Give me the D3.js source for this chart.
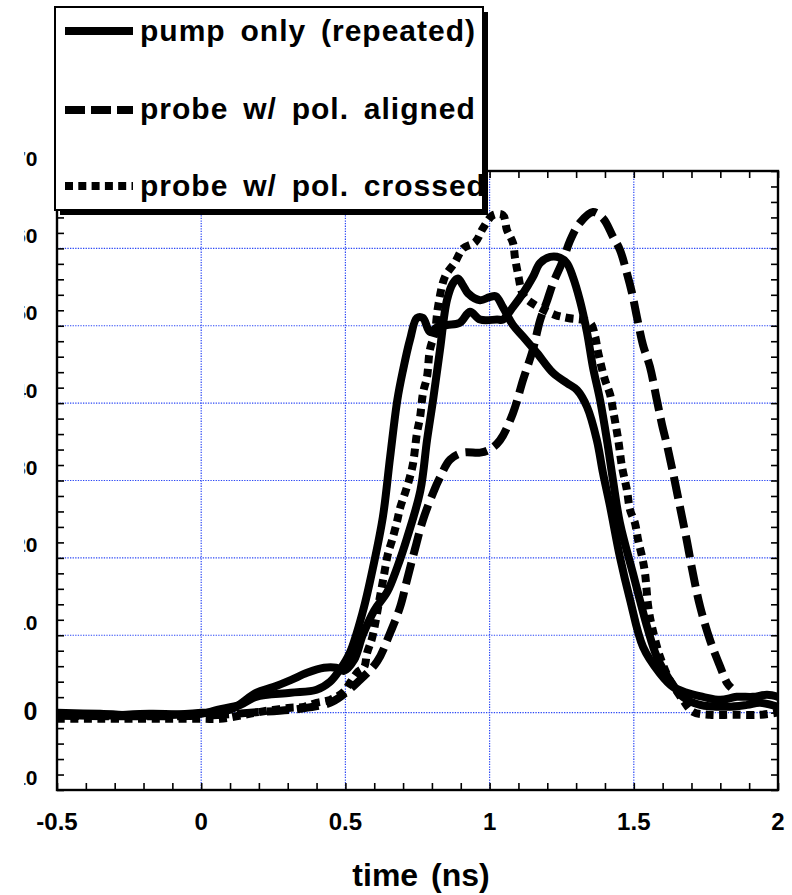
<!DOCTYPE html>
<html>
<head>
<meta charset="utf-8">
<script src="https://cdn.jsdelivr.net/npm/d3@7"></script>
<style>
  html, body { margin: 0; padding: 0; background: #fff; }
  svg { display: block; }
  text { font-family: "Liberation Sans", Arial, Helvetica, sans-serif; font-weight: bold; fill: #000; }
</style>
</head>
<body>
<svg id="chart" width="792" height="895"></svg>
<script>
// Pulse shapes: time (ns) vs signal, for two repeated pump-only runs and the probe
const pumpRunA = [
  [-0.5, -0.28], [-0.35, -0.41], [-0.18, -0.16], [0.0, -0.16], [0.055, 0.36], [0.135, 1.0],
  [0.19, 2.04], [0.31, 2.56], [0.40, 2.95], [0.447, 3.98], [0.48, 5.5], [0.516, 7.8],
  [0.56, 13.0], [0.596, 18.8], [0.63, 25.3], [0.655, 33.0], [0.68, 40.4], [0.70, 44.3],
  [0.724, 48.2], [0.748, 51.0], [0.769, 51.0], [0.793, 49.2], [0.818, 49.8], [0.852, 50.1],
  [0.897, 50.4], [0.932, 51.8], [0.967, 50.8], [1.026, 50.8], [1.046, 50.8], [1.081, 52.4],
  [1.116, 54.2], [1.15, 56.3], [1.175, 58.1], [1.21, 58.9], [1.244, 58.8], [1.268, 58.1],
  [1.289, 56.3], [1.313, 53.3], [1.338, 49.1], [1.358, 44.7], [1.383, 40.4], [1.407, 35.2],
  [1.428, 30.0], [1.452, 24.5], [1.497, 18.0], [1.546, 11.1], [1.58, 7.2], [1.625, 4.2],
  [1.67, 2.04], [1.73, 1.0], [1.823, 0.75], [1.893, 1.0], [1.938, 1.27], [2.0, 0.75]
];

const pumpRunB = [
  [-0.5, -0.03], [-0.35, -0.16], [-0.18, -0.41], [0.0, -0.03], [0.1, 0.36], [0.19, 2.56],
  [0.25, 3.3], [0.31, 4.2], [0.367, 5.15], [0.426, 5.8], [0.468, 5.8], [0.495, 5.4],
  [0.53, 6.8], [0.56, 10.0], [0.60, 13.2], [0.645, 15.6], [0.68, 18.8], [0.714, 22.6],
  [0.76, 28.7], [0.783, 35.2], [0.804, 40.4], [0.828, 46.9], [0.852, 53.3], [0.873, 55.5],
  [0.89, 56.1], [0.908, 55.2], [0.925, 54.2], [0.967, 53.3], [1.0, 53.7], [1.022, 53.8],
  [1.046, 52.4], [1.081, 50.1], [1.116, 48.6], [1.164, 46.5], [1.22, 43.9], [1.268, 42.6],
  [1.303, 41.7], [1.338, 39.5], [1.372, 35.2], [1.393, 31.0], [1.418, 26.6], [1.452, 20.1],
  [1.487, 14.6], [1.532, 8.5], [1.59, 5.1], [1.636, 3.33], [1.684, 2.56], [1.74, 2.04],
  [1.8, 1.65], [1.857, 2.04], [1.913, 2.04], [1.962, 2.3], [2.0, 2.04]
];

const probeAligned = [
  [-0.5, -0.41], [0.0, -0.41], [0.17, 0.0], [0.343, 0.5], [0.447, 1.27], [0.492, 2.3],
  [0.54, 3.85], [0.61, 6.6], [0.655, 10.3], [0.69, 13.7], [0.714, 17.2], [0.741, 21.1],
  [0.769, 24.9], [0.804, 28.4], [0.828, 30.4], [0.863, 32.7], [0.908, 33.6], [0.967, 33.6],
  [1.0, 34.0], [1.036, 35.2], [1.081, 38.7], [1.116, 43.0], [1.15, 46.9], [1.175, 50.7],
  [1.2, 53.3], [1.22, 55.5], [1.254, 58.4], [1.279, 61.0], [1.313, 63.3], [1.358, 64.7],
  [1.393, 63.9], [1.428, 61.5], [1.452, 59.8], [1.476, 56.8], [1.494, 54.2], [1.511, 51.1],
  [1.532, 47.5], [1.556, 44.7], [1.58, 40.4], [1.598, 37.2], [1.615, 34.6], [1.636, 31.0],
  [1.66, 26.6], [1.684, 22.2], [1.705, 18.0], [1.73, 13.7], [1.764, 9.4], [1.8, 5.9],
  [1.823, 3.85], [1.838, 3.2]
];

const probeCrossed = [
  [-0.5, -0.8], [0.0, -0.8], [0.065, -0.8], [0.148, -0.28], [0.19, 0.0], [0.25, 0.36],
  [0.31, 0.62], [0.357, 0.75], [0.40, 1.27], [0.447, 1.65], [0.495, 2.7], [0.516, 3.85],
  [0.544, 5.3], [0.565, 5.9], [0.575, 7.7], [0.593, 9.7], [0.62, 15.0], [0.631, 17.2],
  [0.648, 20.6], [0.662, 22.3], [0.679, 24.7], [0.69, 26.5], [0.707, 28.4], [0.724, 30.5],
  [0.735, 32.3], [0.748, 36.1], [0.759, 38.2], [0.769, 41.3], [0.783, 43.4], [0.793, 46.9],
  [0.81, 49.1], [0.821, 52.4], [0.845, 56.3], [0.88, 58.2], [0.908, 60.0], [0.95, 60.8],
  [0.977, 62.6], [1.012, 64.3], [1.046, 64.3], [1.06, 62.4], [1.081, 60.7], [1.088, 58.8],
  [1.098, 56.8], [1.116, 54.0], [1.14, 53.1], [1.227, 51.4], [1.272, 51.0], [1.348, 50.4],
  [1.366, 48.6], [1.376, 46.6], [1.4, 43.0], [1.418, 41.1], [1.428, 39.1], [1.445, 35.5],
  [1.459, 31.8], [1.476, 28.8], [1.487, 26.2], [1.504, 24.5], [1.515, 22.3], [1.529, 20.1],
  [1.539, 18.0], [1.55, 13.7], [1.563, 11.1], [1.591, 7.2], [1.625, 4.2], [1.67, 1.65],
  [1.705, 0.1], [1.764, -0.28], [1.844, -0.28], [1.938, -0.28], [2.0, 0.0]
];

const xTickLabels = [-0.5, 0, 0.5, 1, 1.5, 2];
const yTickLabels = [-10, 0, 10, 20, 30, 40, 50, 60, 70];
const xGridValues = [0, 0.5, 1, 1.5];
const yGridValues = [0, 10, 20, 30, 40, 50, 60];
const legendLabels = ["pump only (repeated)", "probe w/ pol. aligned", "probe w/ pol. crossed"];
const xTitle = "time (ns)";

const svg = d3.select("#chart");
const plot = { left: 57, right: 778, top: 171, bottom: 790 };

const x = d3.scaleLinear().domain([-0.5, 2]).range([plot.left, plot.right]);
const y = d3.scaleLinear().domain([-10, 70]).range([plot.bottom, plot.top]);

const styles = {
  solid:  { dash: null },
  dashed: { dash: "22,8" },
  dotted: { dash: "8,5.5" }
};

// Blue dotted grid
const grid = svg.append("g").attr("stroke", "#2b47f5").attr("stroke-width", 1.2)
  .attr("stroke-dasharray", "1.3,1.3");
grid.selectAll("line.v").data(xGridValues).join("line").attr("class", "v")
  .attr("x1", d => x(d)).attr("x2", d => x(d)).attr("y1", plot.top).attr("y2", plot.bottom);
grid.selectAll("line.h").data(yGridValues).join("line").attr("class", "h")
  .attr("x1", plot.left).attr("x2", plot.right).attr("y1", d => y(d)).attr("y2", d => y(d));

// Curves
const line = d3.line().x(d => x(d[0])).y(d => y(d[1])).curve(d3.curveCatmullRom.alpha(0.5));
const series = [
  { data: pumpRunA, style: "solid" },
  { data: pumpRunB, style: "solid" },
  { data: probeAligned, style: "dashed" },
  { data: probeCrossed, style: "dotted" }
];
svg.append("g").selectAll("path").data(series).join("path")
  .attr("d", d => line(d.data))
  .attr("fill", "none").attr("stroke", "#000").attr("stroke-width", 8)
  .attr("stroke-linejoin", "round")
  .attr("stroke-dasharray", d => styles[d.style].dash);

// Frame with inward ticks on all four sides
const minorX = d3.range(-5, 21).map(i => i / 10);
const minorY = d3.range(-10, 71, 2);
const axes = svg.append("g");
function styleAxis(g) {
  g.select(".domain").remove();
  g.selectAll(".tick line").attr("stroke", "#000").attr("stroke-width", 1.6);
}
axes.append("g").attr("transform", `translate(0,${plot.bottom})`)
  .call(d3.axisBottom(x).tickValues(minorX).tickSize(-7).tickFormat("")).call(styleAxis);
axes.append("g").attr("transform", `translate(0,${plot.top})`)
  .call(d3.axisTop(x).tickValues(minorX).tickSize(-7).tickFormat("")).call(styleAxis);
axes.append("g").attr("transform", `translate(${plot.left},0)`)
  .call(d3.axisLeft(y).tickValues(minorY).tickSize(-7).tickFormat("")).call(styleAxis);
axes.append("g").attr("transform", `translate(${plot.right},0)`)
  .call(d3.axisRight(y).tickValues(minorY).tickSize(-7).tickFormat("")).call(styleAxis);
axes.append("rect")
  .attr("x", plot.left).attr("y", plot.top)
  .attr("width", plot.right - plot.left).attr("height", plot.bottom - plot.top)
  .attr("fill", "none").attr("stroke", "#000").attr("stroke-width", 2.4);

// X tick labels and title
svg.append("g").selectAll("text").data(xTickLabels).join("text")
  .attr("x", d => x(d)).attr("y", 830)
  .attr("text-anchor", "middle").attr("font-size", 24)
  .text(d => String(d));
svg.append("text").attr("x", 421).attr("y", 886)
  .attr("text-anchor", "middle").attr("font-size", 32).attr("word-spacing", 4)
  .text(xTitle);

// Y tick labels (left margin is narrow, so only their ends show)
svg.append("defs").append("clipPath").attr("id", "ylabClip")
  .append("rect").attr("x", 24.3).attr("y", 0).attr("width", 33).attr("height", 895);
svg.select("defs").append("clipPath").attr("id", "zeroClip")
  .append("rect").attr("x", 20).attr("y", 0).attr("width", 37).attr("height", 895);
const ylab = svg.append("g");
ylab.selectAll("text").data(yTickLabels).join("text")
  .attr("clip-path", d => d === 0 ? "url(#zeroClip)" : "url(#ylabClip)")
  .attr("x", 37.5)
  .attr("y", d => d === 0 ? y(d) + 7.5 : y(d) - 5.5)
  .attr("text-anchor", "end")
  .attr("font-size", d => d === 0 ? 25 : 21)
  .text(d => String(d));

// Legend box with drop shadow
const lg = { x: 55, y: 7, w: 428, h: 203 };
const legend = svg.append("g");
legend.append("rect").attr("x", lg.x + 5).attr("y", lg.y + 5).attr("width", lg.w).attr("height", lg.h)
  .attr("fill", "#000");
legend.append("rect").attr("x", lg.x).attr("y", lg.y).attr("width", lg.w).attr("height", lg.h)
  .attr("fill", "#fff").attr("stroke", "#000").attr("stroke-width", 2);
svg.select("defs").append("clipPath").attr("id", "legendClip")
  .append("rect").attr("x", lg.x + 1).attr("y", lg.y + 1).attr("width", lg.w - 2).attr("height", lg.h - 2);
const entries = legend.append("g").attr("clip-path", "url(#legendClip)");
const legendRows = [
  { label: legendLabels[0], style: "solid", baseline: 41, lineY: 31 },
  { label: legendLabels[1], style: "dashed", baseline: 119, lineY: 110 },
  { label: legendLabels[2], style: "dotted", baseline: 196, lineY: 186 }
];
const legendDash = { solid: null, dashed: "20,6", dotted: "8,5.3" };
entries.selectAll("line").data(legendRows).join("line")
  .attr("x1", 65).attr("x2", 133)
  .attr("y1", d => d.lineY).attr("y2", d => d.lineY)
  .attr("stroke", "#000").attr("stroke-width", 8)
  .attr("stroke-dasharray", d => legendDash[d.style]);
entries.selectAll("text").data(legendRows).join("text")
  .attr("x", 140).attr("y", d => d.baseline)
  .attr("font-size", 30).attr("letter-spacing", 1).attr("word-spacing", 5.5)
  .text(d => d.label);
</script>
</body>
</html>
